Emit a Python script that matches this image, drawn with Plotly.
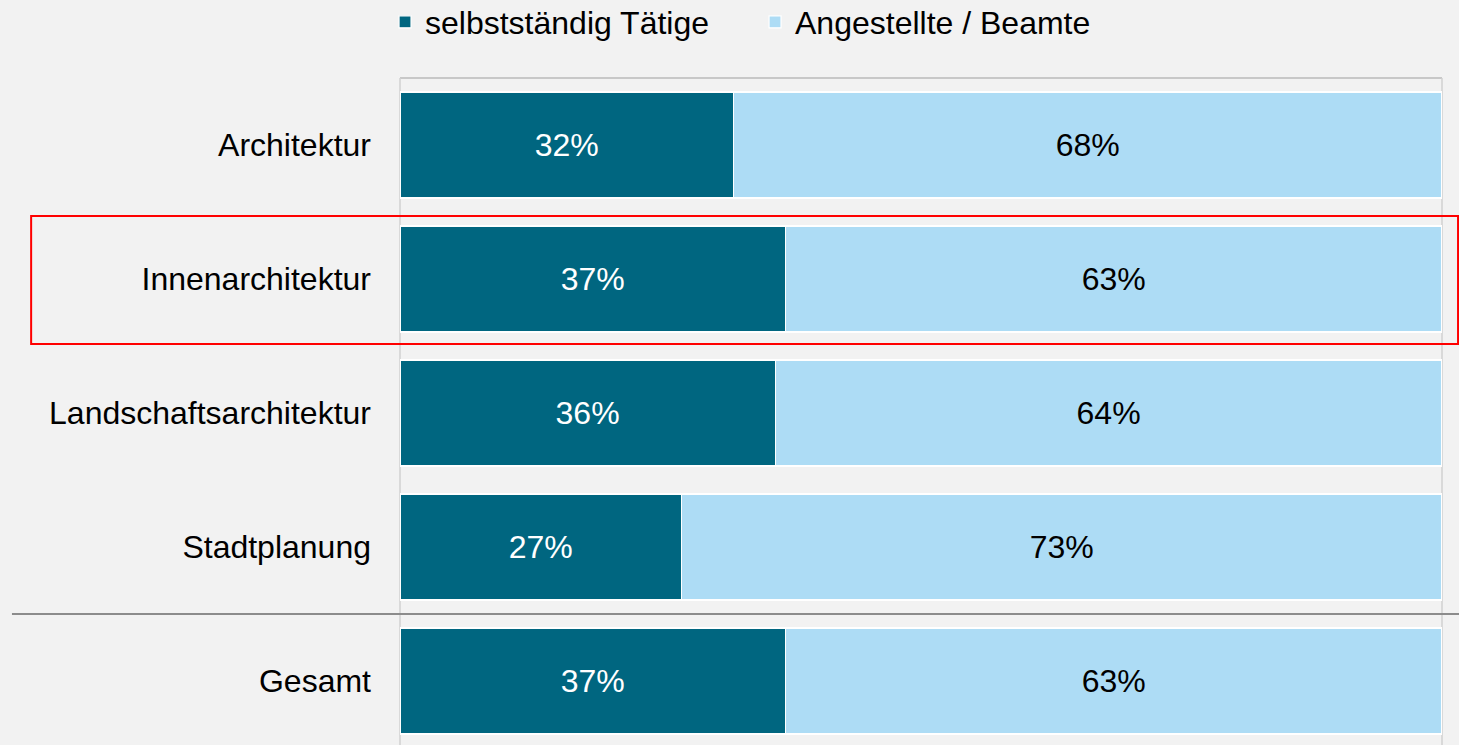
import plotly.graph_objects as go

# Beschäftigungsstatus nach Fachrichtung (Anteile in %)
categories = ["Architektur", "Innenarchitektur", "Landschaftsarchitektur", "Stadtplanung", "Gesamt"]
selbststaendig = [32, 37, 36, 27, 37]
angestellte = [68, 63, 64, 73, 63]
series_names = ["selbstständig Tätige", "Angestellte / Beamte"]

DARK = "#006680"
LIGHT = "#ADDCF5"
BG = "#F2F2F2"
FONT = "Liberation Sans, Arial, sans-serif"
FS = 32

fig = go.Figure()
fig.add_trace(go.Bar(
    y=categories, x=selbststaendig, name=series_names[0], orientation="h",
    marker=dict(color=DARK, line=dict(color="white", width=1.2)),
    texttemplate="%{x}%", textposition="inside", insidetextanchor="middle",
    textfont=dict(color="white", size=FS, family=FONT), textangle=0,
))
fig.add_trace(go.Bar(
    y=categories, x=angestellte, name=series_names[1], orientation="h",
    marker=dict(color=LIGHT, line=dict(color="white", width=1.2)),
    texttemplate="%{x}%", textposition="inside", insidetextanchor="middle",
    textfont=dict(color="black", size=FS, family=FONT), textangle=0,
))

n = len(categories)

# Rahmen des Diagrammbereichs (oben, links, rechts)
frame = dict(type="line", xref="paper", yref="paper", layer="below")
fig.add_shape(**frame, x0=0, x1=1, y0=1, y1=1, line=dict(color="#C8C8C8", width=2))
fig.add_shape(**frame, x0=0, x1=0, y0=0, y1=1, line=dict(color="#D0D0D0", width=1.5))
fig.add_shape(**frame, x0=1, x1=1, y0=0, y1=1, line=dict(color="#D0D0D0", width=1.5))

# Trennlinie vor "Gesamt"
fig.add_shape(type="line", xref="paper", yref="y", x0=-0.3724, x1=1.02,
              y0=n - 1.5, y1=n - 1.5, line=dict(color="#8C8C8C", width=2))

# Markierung Innenarchitektur
fig.add_shape(type="rect", xref="paper", yref="y", x0=-0.354, x1=1.0154,
              y0=0.53, y1=1.485, line=dict(color="#FF0000", width=2))

fig.update_layout(
    barmode="stack",
    bargap=0.21,
    width=1459, height=745,
    margin=dict(l=400, r=17, t=78, b=0, autoexpand=False),
    paper_bgcolor=BG, plot_bgcolor=BG,
    font=dict(family=FONT, size=FS, color="black"),
    showlegend=True,
    legend=dict(orientation="h", x=0.2639, xanchor="left", xref="container",
                y=0.9705, yanchor="middle", yref="container",
                entrywidth=325, entrywidthmode="pixels",
                font=dict(size=FS, family=FONT), bgcolor="rgba(0,0,0,0)",
                traceorder="normal", itemclick=False),
    uniformtext=dict(minsize=FS, mode="show"),
)
fig.update_xaxes(range=[0, 100], showgrid=False, zeroline=False, showticklabels=False,
                 showline=False, fixedrange=True)
fig.update_yaxes(type="category", categoryorder="array", categoryarray=categories,
                 range=[-0.5 + 667 / 134, -0.5], showgrid=False, zeroline=False,
                 showline=False, ticks="", ticklabelstandoff=28, fixedrange=True)

fig.write_html("out.html")
